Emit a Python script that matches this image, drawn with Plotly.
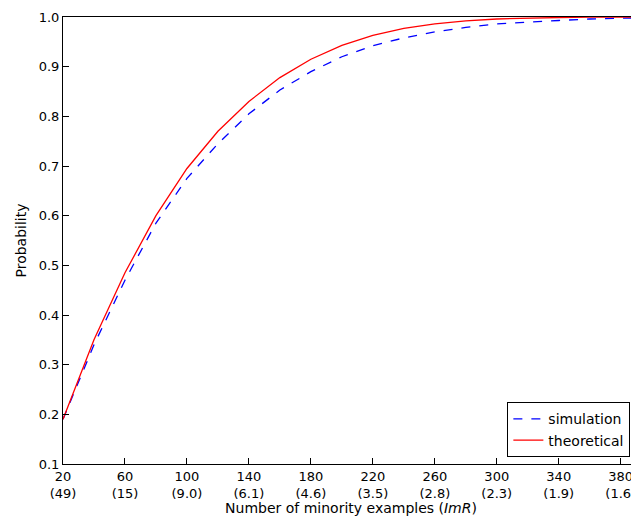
import plotly.graph_objects as go

x_vals = [20, 40, 60, 80, 100, 120, 140, 160, 180, 200, 220, 240, 260, 280, 300, 320, 340, 360, 380, 400]
simulation = [0.19, 0.34, 0.47, 0.585, 0.675, 0.745, 0.805, 0.853, 0.89, 0.92, 0.942, 0.958, 0.97,
              0.979, 0.986, 0.99, 0.993, 0.996, 0.998, 0.999]
theoretical = [0.19, 0.35, 0.485, 0.60, 0.695, 0.77, 0.83, 0.878, 0.915, 0.943, 0.963, 0.977, 0.986,
               0.992, 0.996, 0.998, 0.999, 1.0, 1.0, 1.0]
tick_vals = [20, 60, 100, 140, 180, 220, 260, 300, 340, 380]
tick_ratios = ['49', '15', '9.0', '6.1', '4.6', '3.5', '2.8', '2.3', '1.9', '1.6']
tick_text = [f'{v}<br>({r})' for v, r in zip(tick_vals, tick_ratios)]

fig = go.Figure()
fig.add_trace(go.Scatter(x=x_vals, y=simulation, mode='lines', name='simulation',
                         line=dict(color='blue', width=1.3, dash='dash')))
fig.add_trace(go.Scatter(x=x_vals, y=theoretical, mode='lines', name='theoretical',
                         line=dict(color='red', width=1.3)))

axis_common = dict(showgrid=False, zeroline=False, showline=True, linecolor='black', mirror=True,
                   ticks='inside', ticklen=6, tickcolor='black',
                   tickfont=dict(family='DejaVu Sans', size=13, color='black'))
fig.update_xaxes(range=[20, 391.8], tickvals=tick_vals, ticktext=tick_text,
                 title=dict(text='Number of minority examples (<i>ImR</i>)', standoff=2,
                            font=dict(family='DejaVu Sans', size=14, color='black')),
                 **axis_common)
fig.update_yaxes(range=[0.1, 1.0], dtick=0.1, tickformat='.1f',
                 title=dict(text='Probability', standoff=8,
                            font=dict(family='DejaVu Sans', size=14, color='black')),
                 **axis_common)
fig.update_layout(width=631, height=513, plot_bgcolor='white', paper_bgcolor='white',
                  margin=dict(l=55, r=0, t=9, b=57),
                  legend=dict(x=0.985, y=0.015, xanchor='right', yanchor='bottom',
                              bordercolor='black', borderwidth=1, bgcolor='white',
                              font=dict(family='DejaVu Sans', size=14, color='black')))
fig.write_html("out.html")
